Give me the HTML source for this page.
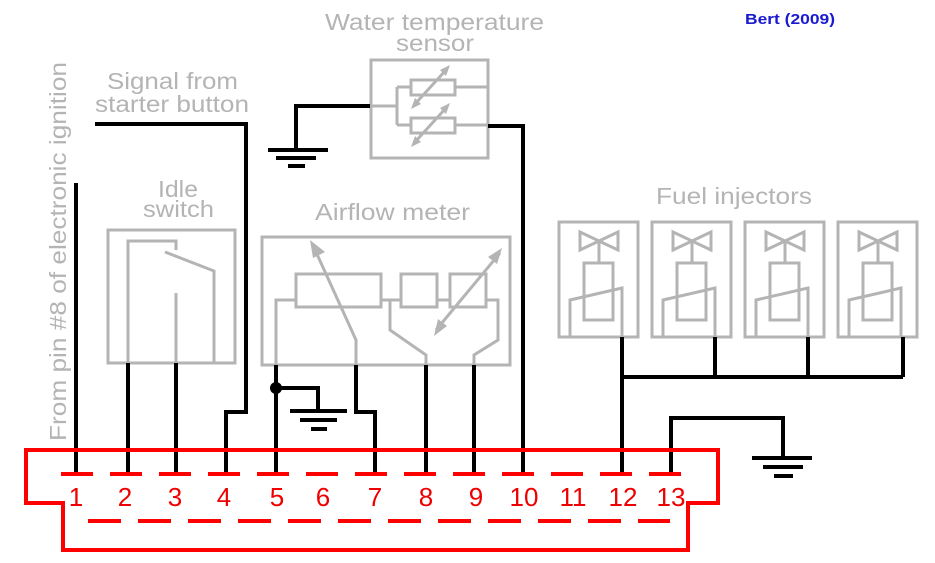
<!DOCTYPE html>
<html><head><meta charset="utf-8"><style>
body{margin:0;background:#fff;}
svg{display:block;font-family:"Liberation Sans",sans-serif;}
.g{stroke:#b4b4b4;stroke-width:3;fill:none;}
.k{stroke:#000;stroke-width:4;fill:none;}
.r{stroke:#f00;stroke-width:4;fill:none;}
.t{fill:#b4b4b4;font-size:23px;}
.n{fill:#e00;font-size:26px;}
</style></head><body>
<svg width="935" height="563" viewBox="0 0 935 563">
<!-- labels -->
<text class="t" x="325" y="30" textLength="219" lengthAdjust="spacingAndGlyphs">Water temperature</text>
<text class="t" x="396" y="51" textLength="78" lengthAdjust="spacingAndGlyphs">sensor</text>
<text x="745" y="24" fill="#1a1ad0" font-size="15" font-weight="bold" textLength="90" lengthAdjust="spacingAndGlyphs">Bert (2009)</text>
<text class="t" x="107" y="89" textLength="131" lengthAdjust="spacingAndGlyphs">Signal from</text>
<text class="t" x="95" y="112" textLength="154" lengthAdjust="spacingAndGlyphs">starter button</text>
<text class="t" x="158" y="197" textLength="40" lengthAdjust="spacingAndGlyphs">Idle</text>
<text class="t" x="143" y="217" textLength="71" lengthAdjust="spacingAndGlyphs">switch</text>
<text class="t" x="315" y="220" textLength="155" lengthAdjust="spacingAndGlyphs">Airflow meter</text>
<text class="t" x="656" y="204" textLength="156" lengthAdjust="spacingAndGlyphs">Fuel injectors</text>
<text class="t" transform="translate(66,441) rotate(-90)" textLength="379" lengthAdjust="spacingAndGlyphs">From pin #8 of electronic ignition</text>

<!-- water sensor -->
<rect class="g" x="371" y="60" width="117" height="98"/>
<path class="g" d="M371 106 H397 M397 87 V125 M397 87 H411 M397 125 H411 M455 87 H488 M455 125 H488"/>
<rect class="g" x="411" y="80" width="44" height="15"/>
<rect class="g" x="411" y="118" width="44" height="15"/>
<path class="g" d="M415 104 L446 70 M415 142 L446 108"/>
<path d="M450 65 L440 70 L446 76Z M411 109 L421 104 L415 98Z M450 103 L440 108 L446 114Z M411 147 L421 142 L415 136Z" fill="#b4b4b4"/>
<!-- ground water -->
<path class="k" d="M370 106 H296 V150"/>
<path class="k" d="M268 150 H328 M276 158 H316 M288 166 H305" stroke-width="3"/>
<!-- pin 10 -->
<path class="k" d="M488 126 H523 V474"/>

<!-- idle switch -->
<rect class="g" x="108" y="230" width="127" height="133"/>
<path class="g" d="M128 363 V241 H176 V250 M165 252 L214 271 V363 M176 293 V363"/>

<!-- airflow meter -->
<rect class="g" x="262" y="237" width="248" height="128"/>
<rect class="g" x="296" y="274" width="85" height="33"/>
<rect class="g" x="401" y="274" width="36" height="33"/>
<rect class="g" x="450" y="274" width="36" height="33"/>
<path class="g" d="M296 300 H276 V365 M381 300 H401 M437 300 H450 M486 300 H498 V340 L474 355 V365 M390 300 V330 L426 355 V365"/>
<path class="g" d="M356 365 V340 L316 252"/>
<path d="M310 240 L325 252 L313 258Z" fill="#b4b4b4"/>
<path class="g" d="M436 330 L500 253"/>
<path d="M502 248 L488 257 L497 264Z M434 336 L447 326 L438 319Z" fill="#b4b4b4"/>

<!-- injectors -->
<g id="inj">
<rect class="g" x="559" y="222" width="79" height="115"/>
<path class="g" d="M580 232 L618 250 V232 L580 250Z M599 241 V263"/>
<rect class="g" x="584" y="263" width="29" height="57"/>
<path class="g" d="M570 337 V300 L622 288 V337"/>
</g>
<use href="#inj" x="93"/>
<use href="#inj" x="186"/>
<use href="#inj" x="279"/>
<path class="k" d="M622 337 V474 M622 377 H903 M715 337 V377 M808 337 V377 M903 337 V377"/>

<!-- pin 13 ground -->
<path class="k" d="M671 474 V418 H783 V458"/>
<path class="k" d="M752 458 H812 M763 467 H803 M774 476 H793" stroke-width="3"/>

<!-- wires -->
<path class="k" d="M76 183 V474 M128 363 V474 M176 363 V474"/>
<path class="k" d="M95 124 H246 V412 H226 V474"/>
<path class="k" d="M276 365 V474 M276 388 H318 V410"/>
<circle cx="276" cy="388" r="6"/>
<path class="k" d="M290 411 H347 M300 420 H337 M311 429 H327" stroke-width="3"/>
<path class="k" d="M356 365 V412 H375 V474 M426 365 V474 M474 365 V474"/>

<!-- connector -->
<path class="r" d="M26 450 H718 V503 H688 V550 H63 V503 H26 Z"/>
<path class="r" d="M61 474 H690" stroke-dasharray="32 17"/>
<path class="r" d="M88 521 H670" stroke-dasharray="33 17"/>
<g class="n" text-anchor="middle">
<text x="76" y="506">1</text><text x="125" y="506">2</text><text x="175" y="506">3</text>
<text x="224" y="506">4</text><text x="277" y="506">5</text><text x="323" y="506">6</text>
<text x="375" y="506">7</text><text x="426" y="506">8</text><text x="476" y="506">9</text>
<text x="524" y="506">10</text><text x="573" y="506">11</text><text x="623" y="506">12</text>
<text x="671" y="506">13</text>
</g>
</svg>
</body></html>
